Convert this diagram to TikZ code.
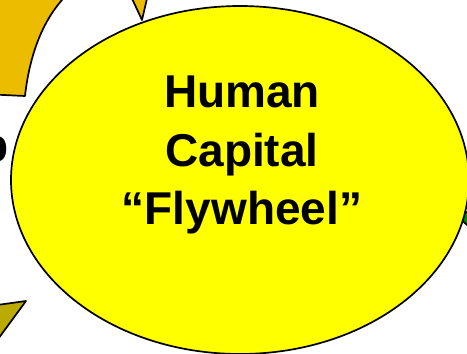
\documentclass[tikz,border=0pt]{standalone}
\usepackage{fontspec}
\setmainfont{Liberation Sans}
\usepackage{tikz}
\definecolor{wheelgold}{RGB}{236,188,0}
\definecolor{wheelolive}{RGB}{187,170,0}
\definecolor{wheelgreen}{RGB}{0,140,0}
\definecolor{wheelyellow}{RGB}{255,255,0}
\tikzset{
  edge/.style={draw=black, line width=1.7pt, line join=round},
  bigtext/.style={font=\bfseries\fontsize{46}{58.5}\selectfont, align=center, inner sep=0pt}
}

\begin{document}
\begin{tikzpicture}[x=1pt, y=-1pt]
      \useasboundingbox (0,0) rectangle (467,354);

      % neighbouring arrows of the cycle
      \fill[wheelgold, edge] (-60,92) -- (25,96) .. controls (29,60) and (40,25) .. (62,0) -- (70,-20) -- (-60,-20) -- cycle;
      \fill[wheelgold, edge] (128,-10) -- (142,20) -- (149,-10) -- cycle;
      \fill[wheelolive, edge] (-10,306) -- (26,301) -- (-10,350) -- cycle;
      \fill[wheelgreen, edge] (475,209) -- (457,216) -- (475,232) -- cycle;

      % the wheel
      \draw[edge, fill=wheelyellow] (240,180) ellipse [x radius=229, y radius=174];

	\node[bigtext] (flywheel) at (242,155) {Human\\Capital\\“Flywheel”};
	\node[bigtext, anchor=base east] (leftword) at (9,161) {p};
    \end{tikzpicture}
\end{document}
